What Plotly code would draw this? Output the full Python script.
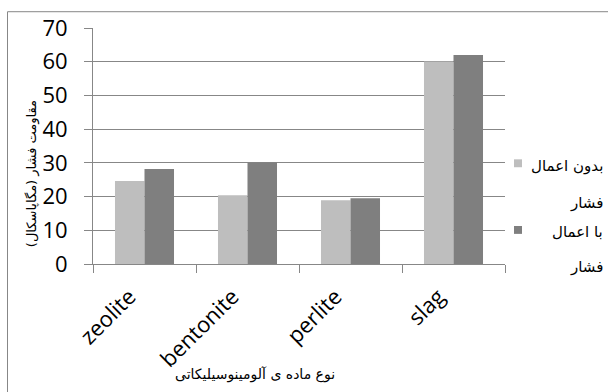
import plotly.graph_objects as go

# Aluminosilicate materials and compressive strength (MPa)
materials = ["zeolite", "bentonite", "perlite", "slag"]
without_pressure = [24.6, 20.4, 18.9, 60.1]
with_pressure = [28.2, 30.1, 19.5, 62.0]

series_names = ["بدون اعمال فشار", "با اعمال فشار"]
legend_lines = [["بدون اعمال", "فشار"], ["با اعمال", "فشار"]]
series_colors = ["#BEBEBE", "#7F7F7F"]

y_title = "مقاومت فشار (مگاپاسکال)"
x_title = "نوع ماده ی آلومینوسیلیکاتی"

W, H = 608, 392
L, R, T, B = 93, 103, 25, 128
PW, PH = W - L - R, H - T - B

def px_x(x):
    return (x - L) / PW

def px_y(y):
    return (H - B - y) / PH

GRID = "#878787"
AR_FONT = "DejaVu Sans"
TICK_FONT = "Open Sans"

fig = go.Figure()
for name, vals, col in zip(series_names, [without_pressure, with_pressure], series_colors):
    fig.add_trace(go.Bar(x=materials, y=vals, name=name, marker=dict(color=col, line=dict(width=0)),
                         showlegend=False))

fig.update_layout(
    width=W, height=H,
    margin=dict(l=L, r=R, t=T, b=B, pad=0),
    paper_bgcolor="white", plot_bgcolor="white",
    barmode="group", bargap=0.427, bargroupgap=0,
    xaxis=dict(
        showline=True, linecolor=GRID, linewidth=1,
        ticks="outside", ticklen=8, tickcolor=GRID, tickson="boundaries",
        tickangle=-45, tickfont=dict(family=TICK_FONT, size=22, color="black"),
        ticklabelshift=-15, ticklabelstandoff=10,
        showgrid=False,
    ),
    yaxis=dict(
        range=[0, 70], dtick=10, showline=True, linecolor=GRID, linewidth=1,
        ticks="outside", ticklen=8, tickcolor=GRID,
        showgrid=True, gridcolor=GRID, gridwidth=1, zeroline=False,
        tickfont=dict(family=TICK_FONT, size=22, color="black"),
        ticklabelstandoff=12,
    ),
)

# axis titles
fig.add_annotation(text=y_title, xref="paper", yref="paper", x=px_x(32), y=px_y(173),
                   xanchor="center", yanchor="middle",
                   textangle=-90, showarrow=False, font=dict(family=AR_FONT, size=13, color="black"))
fig.add_annotation(text=x_title, xref="paper", yref="paper", x=px_x(255), y=px_y(376),
                   xanchor="center", yanchor="middle",
                   showarrow=False, font=dict(family=AR_FONT, size=14, color="black"))

# legend: swatch followed by right-aligned wrapped label
line_y = [[165, 202], [232, 267]]
swatch_y = [162, 229.5]
for lines, ys, sy, col in zip(legend_lines, line_y, swatch_y, series_colors):
    for txt, ly in zip(lines, ys):
        fig.add_annotation(text=txt, xref="paper", yref="paper", x=px_x(605), y=px_y(ly),
                           xanchor="right", yanchor="middle", showarrow=False,
                           font=dict(family=AR_FONT, size=15, color="black"))
    fig.add_shape(type="rect", xref="paper", yref="paper",
                  x0=px_x(514), x1=px_x(522), y0=px_y(sy + 4), y1=px_y(sy - 4),
                  fillcolor=col, line=dict(width=0))

# chart frame (left and top edges fall inside the page)
fig.add_shape(type="line", xref="paper", yref="paper",
              x0=px_x(7.5), x1=px_x(7.5), y0=px_y(400), y1=px_y(8.5),
              line=dict(color=GRID, width=1))
fig.add_shape(type="line", xref="paper", yref="paper",
              x0=px_x(7.5), x1=px_x(620), y0=px_y(8.5), y1=px_y(8.5),
              line=dict(color=GRID, width=1))

fig.write_html("out.html")
